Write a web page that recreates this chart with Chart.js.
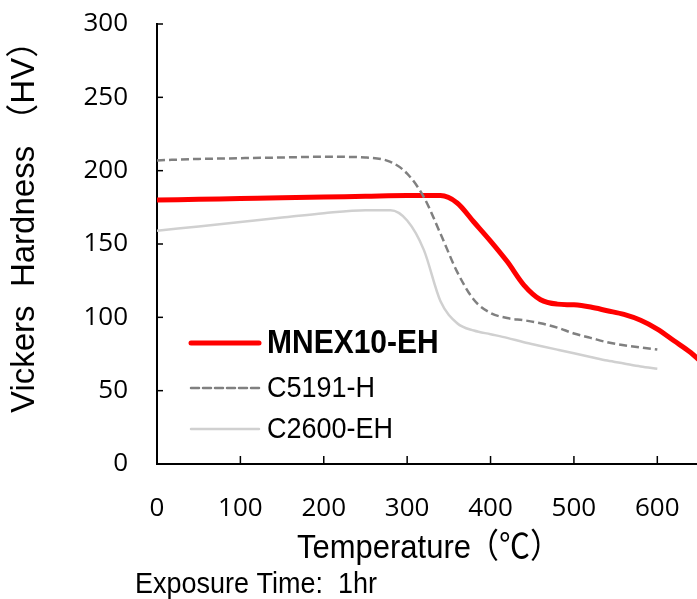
<!DOCTYPE html>
<html>
<head>
<meta charset="utf-8">
<script src="https://cdn.jsdelivr.net/npm/chart.js@4.4.1/dist/chart.umd.min.js"></script>
<style>
  html, body { margin: 0; padding: 0; background: #fff; overflow: hidden; }
  #wrap { position: relative; width: 699px; height: 599px; }
</style>
</head>
<body>
<div id="wrap"><canvas id="chart"></canvas></div>
<script>
// Data (temperature in °C, hardness in HV)
const seriesNames = ['MNEX10-EH', 'C5191-H', 'C2600-EH'];

const mnexTemp = [0, 50, 100, 150, 200, 250, 300, 340, 360, 380, 400, 420, 440, 460, 480, 500, 520, 540, 560, 580, 600, 620, 640, 650];
const mnexHv   = [180, 180.5, 181, 181.5, 182, 182.5, 183, 183, 178, 165, 152, 138, 122, 112, 109, 108.5, 107, 104.5, 102, 98, 92, 84, 76, 71];

const c5191Temp = [0, 50, 100, 150, 200, 250, 280, 300, 320, 340, 360, 380, 400, 420, 440, 460, 480, 500, 520, 540, 560, 580, 600];
const c5191Hv   = [207, 208, 208.5, 209, 209.5, 209, 206, 198, 182, 157, 131, 112, 103, 99.5, 98, 96, 93, 89, 86, 83, 81, 79.5, 78];

const c2600Temp = [0, 50, 100, 150, 200, 250, 280, 300, 320, 340, 360, 380, 400, 420, 440, 460, 480, 500, 520, 540, 560, 580, 600];
const c2600Hv   = [159, 162, 165, 168, 171, 173, 173, 166, 146, 111, 96, 91, 88.5, 86, 83, 80.5, 78, 75.5, 73, 70.5, 68.5, 66.5, 65];

const xTicks = [0, 100, 200, 300, 400, 500, 600];
const yTicks = [0, 50, 100, 150, 200, 250, 300];

const toPoints = (xs, ys) => xs.map((x, i) => ({ x: x, y: ys[i] }));

const FONT_SANS = '"Liberation Sans", Arial, "Noto Sans CJK JP", sans-serif';

// text stretched a little taller, like the reference picture
function tallText(ctx, text, x, y, font) {
    ctx.save();
    ctx.font = font;
    ctx.translate(x, y);
    ctx.scale(1, 1.1);
    ctx.fillText(text, 0, 0);
    ctx.restore();
}

// inside tick marks, custom legend and the text around the plot
const decorations = {
    id: 'decorations',
    afterDraw(chart) {
        const ctx = chart.ctx;
        const xs = chart.scales.x;
        const ys = chart.scales.y;
        const area = chart.chartArea;

        ctx.save();
        ctx.strokeStyle = '#000';
        ctx.lineWidth = 1.5;
        xTicks.forEach(v => {
            const px = xs.getPixelForValue(v);
            ctx.beginPath();
            ctx.moveTo(px, area.bottom);
            ctx.lineTo(px, area.bottom - 8);
            ctx.stroke();
        });
        yTicks.forEach(v => {
            const py = ys.getPixelForValue(v);
            ctx.beginPath();
            ctx.moveTo(area.left, py);
            ctx.lineTo(area.left + 6, py);
            ctx.stroke();
        });

        ctx.fillStyle = '#000';
        ctx.textAlign = 'left';
        ctx.textBaseline = 'middle';

        // legend
        const items = [
            { ds: chart.data.datasets[0], y: 343, font: 'bold 30px ' + FONT_SANS },
            { ds: chart.data.datasets[1], y: 388, font: '27px ' + FONT_SANS },
            { ds: chart.data.datasets[2], y: 429, font: '27px ' + FONT_SANS }
        ];
        items.forEach(it => {
            ctx.beginPath();
            ctx.strokeStyle = it.ds.borderColor;
            ctx.lineWidth = it.ds.borderWidth;
            ctx.lineCap = 'round';
            ctx.setLineDash(it.ds.borderDash || []);
            ctx.moveTo(191, it.y);
            ctx.lineTo(259, it.y);
            ctx.stroke();
            ctx.setLineDash([]);
            tallText(ctx, it.ds.label, 267, it.y + 1, it.font);
        });

        // axis titles and note
        tallText(ctx, 'Temperature', 297, 549, '31px ' + FONT_SANS);
        tallText(ctx, '（℃）', 468, 549, '31px ' + FONT_SANS);
        tallText(ctx, 'Exposure Time:  1hr', 135, 585, '27px ' + FONT_SANS);

        ctx.translate(25, 413);
        ctx.rotate(-Math.PI / 2);
        ctx.font = '33px ' + FONT_SANS;
        ctx.fillText('Vickers  Hardness （HV）', 0, 0);
        ctx.restore();
    }
};

new Chart(document.getElementById('chart'), {
    type: 'line',
    data: {
        datasets: [
            {
                label: seriesNames[0],
                data: toPoints(mnexTemp, mnexHv),
                borderColor: '#ff0000',
                borderWidth: 5,
                order: 1
            },
            {
                label: seriesNames[1],
                data: toPoints(c5191Temp, c5191Hv),
                borderColor: '#808080',
                borderWidth: 2.5,
                borderDash: [8, 4],
                order: 0
            },
            {
                label: seriesNames[2],
                data: toPoints(c2600Temp, c2600Hv),
                borderColor: '#d0d0d0',
                borderWidth: 2.5,
                order: 2
            }
        ]
    },
    options: {
        responsive: true,
        maintainAspectRatio: false,
        animation: false,
        layout: { padding: { top: 24, right: 0, left: 0, bottom: 0 } },
        elements: {
            point: { radius: 0 },
            line: { cubicInterpolationMode: 'monotone', fill: false }
        },
        plugins: {
            legend: { display: false },
            tooltip: { enabled: false }
        },
        scales: {
            x: {
                type: 'linear',
                min: 0,
                max: 650,
                afterBuildTicks: s => { s.ticks = xTicks.map(v => ({ value: v })); },
                afterFit: s => { s.height = 135; s.paddingLeft = 0; s.paddingRight = 0; },
                grid: { drawOnChartArea: false, drawTicks: false },
                border: { color: '#000', width: 2 },
                ticks: {
                    padding: 29,
                    color: '#000',
                    maxRotation: 0,
                    font: { family: '"Open Sans"', size: 26 }
                }
            },
            y: {
                min: 0,
                max: 300,
                afterBuildTicks: s => { s.ticks = yTicks.map(v => ({ value: v })); },
                afterFit: s => { s.width = 157; s.paddingTop = 0; s.paddingBottom = 0; },
                grid: { drawOnChartArea: false, drawTicks: false },
                border: { color: '#000', width: 2 },
                ticks: {
                    padding: 29,
                    color: '#000',
                    font: { family: '"Open Sans"', size: 26 }
                }
            }
        }
    },
    plugins: [decorations]
});
</script>
</body>
</html>
